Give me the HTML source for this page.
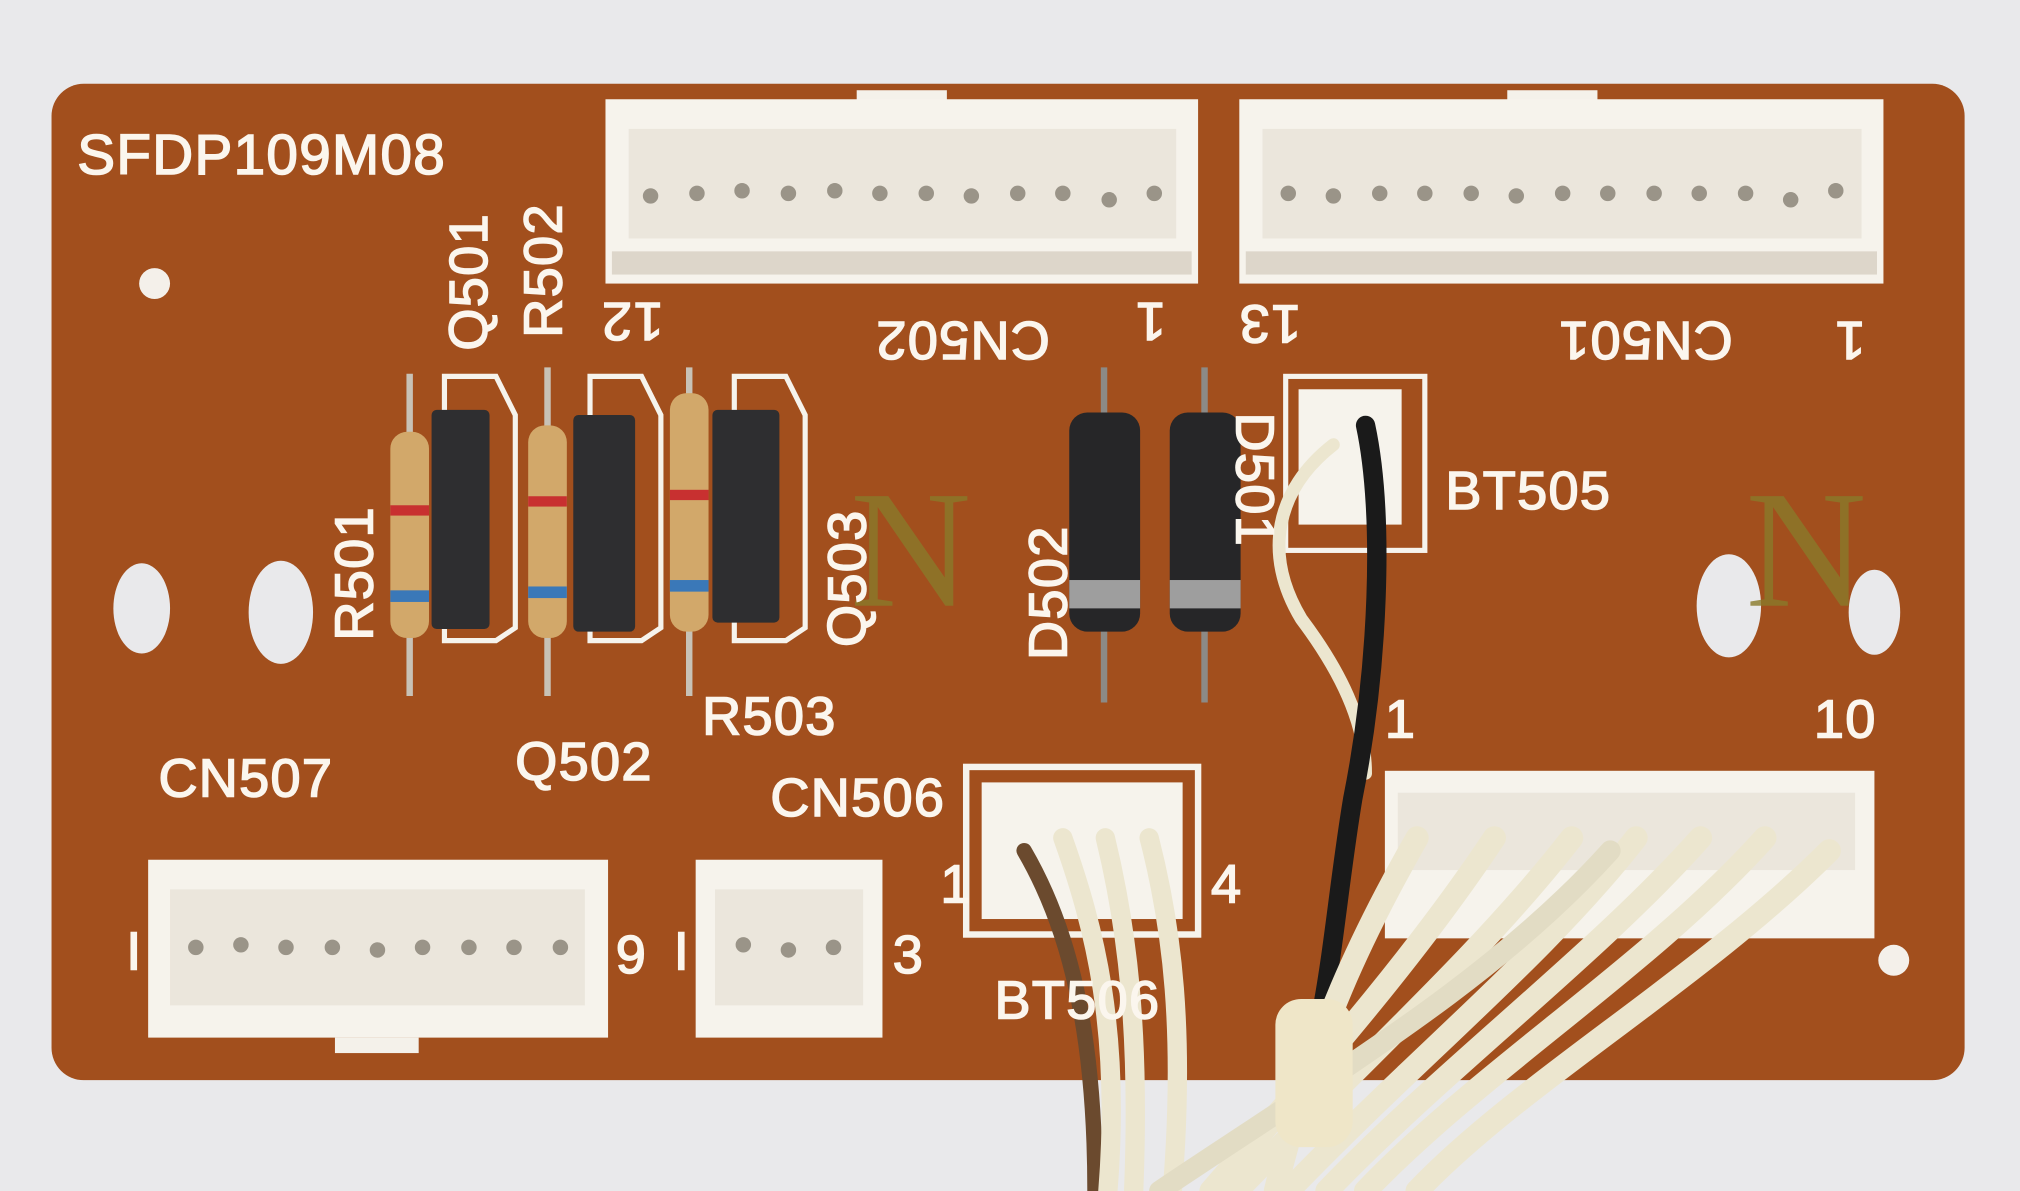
<!DOCTYPE html>
<html><head><meta charset="utf-8"><style>
html,body{margin:0;padding:0;background:#e9e9eb;}
svg{display:block}
text{font-family:"Liberation Sans",sans-serif;fill:#fbf6ee;font-size:42px;stroke:#fbf6ee;stroke-width:1.2px;letter-spacing:1px;}
</style></head><body>
<svg width="2020" height="1191" viewBox="0 0 1568 924" preserveAspectRatio="none" xmlns="http://www.w3.org/2000/svg">
<rect width="1568" height="924" fill="#e9e9eb"/>
<rect x="40" y="65" width="1485" height="773" rx="25" fill="#a24f1d"/>
<ellipse cx="110" cy="472" rx="22" ry="35" fill="#e9e9eb"/>
<ellipse cx="218" cy="475" rx="25" ry="40" fill="#e9e9eb"/>
<ellipse cx="1342" cy="470" rx="25" ry="40" fill="#e9e9eb"/>
<ellipse cx="1455" cy="475" rx="20" ry="33" fill="#e9e9eb"/>
<circle cx="120" cy="220" r="12" fill="#f4f0ea"/><circle cx="1470" cy="745" r="12" fill="#f4f0ea"/>
<text x="660" y="470" style="font-family:'Liberation Serif',serif;font-size:130px;fill:#8a7a2a;stroke:none;opacity:.8">N</text>
<text x="1355" y="470" style="font-family:'Liberation Serif',serif;font-size:130px;fill:#8a7a2a;stroke:none;opacity:.8">N</text>
<rect x="665" y="70" width="70" height="12" fill="#f4f1ea"/>
<rect x="1170" y="70" width="70" height="12" fill="#f4f1ea"/>
<rect x="470" y="77" width="460" height="143" fill="#f6f3ec"/>
<rect x="488" y="100" width="425" height="85" fill="#ebe6dc"/>
<rect x="475" y="195" width="450" height="18" fill="#ddd6ca"/>
<rect x="962" y="77" width="500" height="143" fill="#f6f3ec"/>
<rect x="980" y="100" width="465" height="85" fill="#ebe6dc"/>
<rect x="967" y="195" width="490" height="18" fill="#ddd6ca"/>
<g fill="#9a9488">
<circle cx="505" cy="152" r="6"/><circle cx="541" cy="150" r="6"/><circle cx="576" cy="148" r="6"/><circle cx="612" cy="150" r="6"/><circle cx="648" cy="148" r="6"/><circle cx="683" cy="150" r="6"/><circle cx="719" cy="150" r="6"/><circle cx="754" cy="152" r="6"/><circle cx="790" cy="150" r="6"/><circle cx="825" cy="150" r="6"/><circle cx="861" cy="155" r="6"/><circle cx="896" cy="150" r="6"/>
<circle cx="1000" cy="150" r="6"/><circle cx="1035" cy="152" r="6"/><circle cx="1071" cy="150" r="6"/><circle cx="1106" cy="150" r="6"/><circle cx="1142" cy="150" r="6"/><circle cx="1177" cy="152" r="6"/><circle cx="1213" cy="150" r="6"/><circle cx="1248" cy="150" r="6"/><circle cx="1284" cy="150" r="6"/><circle cx="1319" cy="150" r="6"/><circle cx="1355" cy="150" r="6"/><circle cx="1390" cy="155" r="6"/><circle cx="1425" cy="148" r="6"/>
</g>
<rect x="115" y="667" width="357" height="138" fill="#f6f3ec"/>
<rect x="132" y="690" width="322" height="90" fill="#ebe6dc"/>
<rect x="260" y="805" width="65" height="12" fill="#f4f1ea"/>
<rect x="540" y="667" width="145" height="138" fill="#f6f3ec"/>
<rect x="555" y="690" width="115" height="90" fill="#ebe6dc"/>
<g fill="#9a9488">
<circle cx="152" cy="735" r="6"/><circle cx="187" cy="733" r="6"/><circle cx="222" cy="735" r="6"/><circle cx="258" cy="735" r="6"/><circle cx="293" cy="737" r="6"/><circle cx="328" cy="735" r="6"/><circle cx="364" cy="735" r="6"/><circle cx="399" cy="735" r="6"/><circle cx="435" cy="735" r="6"/>
<circle cx="577" cy="733" r="6"/><circle cx="612" cy="737" r="6"/><circle cx="647" cy="735" r="6"/>
</g>
<rect x="750" y="595" width="180" height="130" fill="none" stroke="#f6f3ec" stroke-width="5"/>
<rect x="762" y="607" width="156" height="106" fill="#f6f3ec"/>
<rect x="1075" y="598" width="380" height="130" fill="#f6f3ec"/>
<rect x="1085" y="615" width="355" height="60" fill="#ebe6dc"/>
<rect x="998" y="292" width="108" height="135" fill="none" stroke="#f6f3ec" stroke-width="4"/>
<rect x="1008" y="302" width="80" height="105" fill="#f6f3ec"/>
<g fill="none" stroke="#f6f3ec" stroke-width="4">
<path d="M345 292h40l15 30v165l-15 10h-40z"/><path d="M458 292h40l15 30v165l-15 10h-40z"/><path d="M570 292h40l15 30v165l-15 10h-40z"/>
</g>
<g stroke="#c8c2b6" stroke-width="5"><line x1="318" y1="290" x2="318" y2="540"/><line x1="425" y1="285" x2="425" y2="540"/><line x1="535" y1="285" x2="535" y2="540"/></g>
<g fill="#d2a86a"><rect x="303" y="335" width="30" height="160" rx="13"/><rect x="410" y="330" width="30" height="165" rx="13"/><rect x="520" y="305" width="30" height="185" rx="13"/></g>
<g fill="#c83030"><rect x="303" y="392" width="30" height="8"/><rect x="410" y="385" width="30" height="8"/><rect x="520" y="380" width="30" height="8"/></g>
<g fill="#3a78b8"><rect x="303" y="458" width="30" height="9"/><rect x="410" y="455" width="30" height="9"/><rect x="520" y="450" width="30" height="9"/></g>
<g fill="#2e2e30"><rect x="335" y="318" width="45" height="170" rx="4"/><rect x="445" y="322" width="48" height="168" rx="4"/><rect x="553" y="318" width="52" height="165" rx="4"/></g>
<g stroke="#8c8a86" stroke-width="5"><line x1="857" y1="285" x2="857" y2="545"/><line x1="935" y1="285" x2="935" y2="545"/></g>
<g fill="#262628"><rect x="830" y="320" width="55" height="170" rx="14"/><rect x="908" y="320" width="55" height="170" rx="14"/></g>
<g fill="#9e9e9e"><rect x="830" y="450" width="55" height="22"/><rect x="908" y="450" width="55" height="22"/></g>
<g fill="none" stroke-linecap="round">
<path d="M795 660 C 830 720, 850 800, 850 924" stroke="#6b4a2e" stroke-width="12"/>
<path d="M825 650 C 850 720, 870 800, 860 924" stroke="#ece6cf" stroke-width="15"/>
<path d="M858 650 C 875 720, 885 800, 880 924" stroke="#ece6cf" stroke-width="15"/>
<path d="M892 650 C 910 720, 920 800, 910 924" stroke="#ece6cf" stroke-width="15"/>
<path d="M1035 345 C 990 380, 980 430, 1010 480 C 1040 520, 1060 560, 1060 600" stroke="#ece6cf" stroke-width="10"/>
<path d="M1060 330 C 1075 400, 1070 520, 1050 620 C 1040 680, 1035 740, 1025 790" stroke="#1a1a1a" stroke-width="15"/>
<path d="M1100 650 C 1060 720, 1020 800, 990 924" stroke="#ece6cf" stroke-width="18"/>
<path d="M1160 650 C 1100 740, 1030 820, 940 924" stroke="#ece6cf" stroke-width="18"/>
<path d="M1220 650 C 1150 740, 1060 820, 960 924" stroke="#ece6cf" stroke-width="18"/>
<path d="M1270 650 C 1200 740, 1100 820, 1000 924" stroke="#ece6cf" stroke-width="18"/>
<path d="M1320 650 C 1240 740, 1120 830, 1030 924" stroke="#ece6cf" stroke-width="18"/>
<path d="M1370 650 C 1280 750, 1150 830, 1060 924" stroke="#ece6cf" stroke-width="18"/>
<path d="M1420 660 C 1320 760, 1180 840, 1100 924" stroke="#ece6cf" stroke-width="18"/>
<path d="M1250 660 C 1160 760, 1040 830, 900 924" stroke="#e2dcc4" stroke-width="16"/>
</g>
<rect x="990" y="775" width="60" height="115" rx="20" fill="#efe6c8"/>
<text x="60" y="135" style="font-size:44px">SFDP109M08</text>
<text transform="translate(378,272) rotate(-90)">Q501</text>
<text transform="translate(436,262) rotate(-90)">R502</text>
<text transform="translate(289,497) rotate(-90)">R501</text>
<text transform="translate(672,502) rotate(-90)">Q503</text>
<text transform="translate(828,512) rotate(-90)">D502</text>
<text transform="translate(960,320) rotate(90)">D501</text>
<text transform="translate(815,250) rotate(180)">CN502</text>
<text transform="translate(515,235) rotate(180)">12</text>
<text transform="translate(905,235) rotate(180)">1</text>
<text transform="translate(1010,237) rotate(180)">13</text>
<text transform="translate(1345,250) rotate(180)">CN501</text>
<text transform="translate(1448,250) rotate(180)">1</text>
<text x="1122" y="395">BT505</text>
<text x="400" y="605">Q502</text>
<text x="545" y="570">R503</text>
<text x="123" y="618">CN507</text>
<text x="598" y="633">CN506</text>
<text x="98" y="752">I</text>
<text x="478" y="755">9</text>
<text x="523" y="752">I</text>
<text x="693" y="755">3</text>
<text x="730" y="700">1</text>
<text x="940" y="700">4</text>
<text x="772" y="790">BT506</text>
<text x="1408" y="572">10</text>
<text x="1075" y="572">1</text>
</svg>
</body></html>
